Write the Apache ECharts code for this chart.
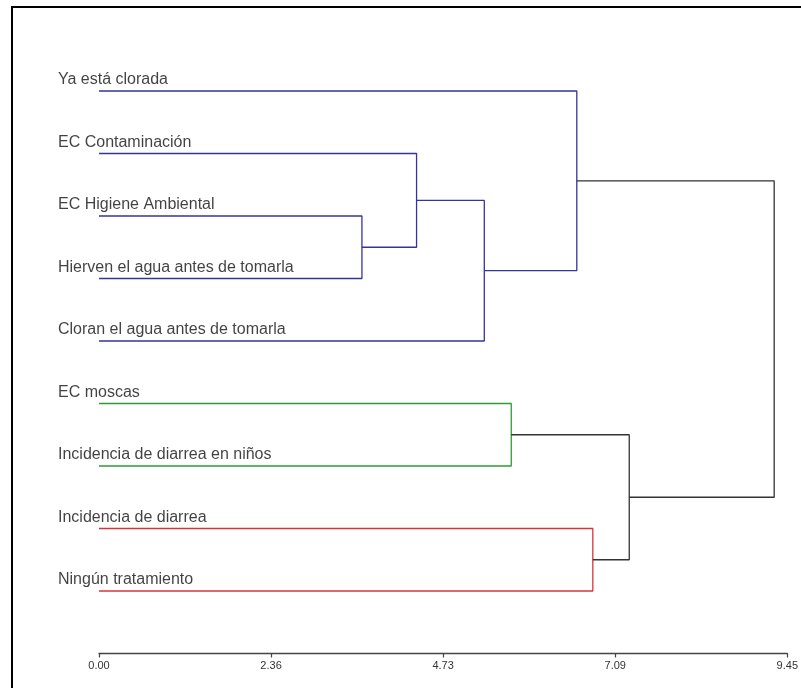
<!DOCTYPE html>
<html>
<head>
<meta charset="utf-8">
<title>Dendrograma</title>
<script src="https://cdn.jsdelivr.net/npm/echarts@6/dist/echarts.min.js"></script>
<style>
  html, body { margin: 0; padding: 0; background: #fff; }
  #chart { width: 801px; height: 688px; }
</style>
</head>
<body>
<div id="chart"></div>
<script>
// Leaves, listed top to bottom in the order they are drawn
const leafLabels = [
  'Ya está clorada',
  'EC Contaminación',
  'EC Higiene Ambiental',
  'Hierven el agua antes de tomarla',
  'Cloran el agua antes de tomarla',
  'EC moscas',
  'Incidencia de diarrea en niños',
  'Incidencia de diarrea',
  'Ningún tratamiento'
];

// Linkage: merge k creates node 9 + k from children mergeA[k] and mergeB[k]
const mergeA = [2, 1, 10, 0, 5, 7, 13, 12];
const mergeB = [3, 9, 4, 11, 6, 8, 14, 15];
const mergeHeight = [3.61, 4.36, 5.29, 6.56, 5.66, 6.78, 7.28, 9.27];

// Distance axis ticks
const tickLabels = ['0.00', '2.36', '4.73', '7.09', '9.45'];
const axisMax = 9.45;

// Coloured clusters (node id -> colour); everything above them is drawn dark
const clusterRoots = [12, 13, 14];
const clusterColors = ['#34349a', '#2f9a36', '#d4353c'];
const baseColor = '#333333';

const nLeaves = leafLabels.length;
const nodeY = [];
const nodeH = [];
for (let i = 0; i < nLeaves; i++) { nodeY[i] = i; nodeH[i] = 0; }
mergeA.forEach((a, k) => {
  const id = nLeaves + k;
  nodeY[id] = (nodeY[a] + nodeY[mergeB[k]]) / 2;
  nodeH[id] = mergeHeight[k];
});

// Colour of each merge: that of the cluster root it belongs to
function descendants(id, out) {
  out.add(id);
  if (id >= nLeaves) {
    descendants(mergeA[id - nLeaves], out);
    descendants(mergeB[id - nLeaves], out);
  }
  return out;
}
const nodeColor = {};
clusterRoots.forEach((r, ci) => {
  descendants(r, new Set()).forEach(id => { nodeColor[id] = clusterColors[ci]; });
});

// One bracket per merge
const linkSeries = mergeA.map((a, k) => {
  const b = mergeB[k];
  const id = nLeaves + k;
  const h = mergeHeight[k];
  return {
    type: 'line',
    silent: true,
    symbol: 'none',
    animation: false,
    lineStyle: { color: nodeColor[id] || baseColor, width: 1.3 },
    data: [
      [nodeH[a], nodeY[a]],
      [h, nodeY[a]],
      [h, nodeY[b]],
      [nodeH[b], nodeY[b]]
    ]
  };
});

// Leaf names, written above each leaf's line
const labelSeries = {
  type: 'scatter',
  silent: true,
  animation: false,
  symbolSize: 0,
  data: leafLabels.map((name, i) => ({ value: [0, i], name: name })),
  label: {
    show: true,
    position: [-41, -11],
    align: 'left',
    verticalAlign: 'middle',
    formatter: p => p.name,
    fontFamily: 'Liberation Sans, Arial, sans-serif',
    fontSize: 16,
    color: '#111'
  }
};

const chart = echarts.init(document.getElementById('chart'), null, { renderer: 'canvas' });
chart.setOption({
  backgroundColor: '#ffffff',
  animation: false,
  grid: { left: 99, top: 28.5, width: 689, height: 625, containLabel: false },
  xAxis: {
    type: 'value',
    min: 0,
    max: axisMax,
    interval: axisMax / (tickLabels.length - 1),
    splitLine: { show: false },
    axisLine: { show: true, onZero: false, lineStyle: { color: '#444', width: 1.3 } },
    axisTick: { show: true, inside: false, length: 4, lineStyle: { color: '#444', width: 1.2 } },
    axisLabel: {
      margin: 7,
      fontFamily: 'Liberation Sans, Arial, sans-serif',
      fontSize: 11,
      color: '#333',
      showMinLabel: true,
      showMaxLabel: true,
      formatter: v => tickLabels[Math.round(v / (axisMax / (tickLabels.length - 1)))]
    }
  },
  yAxis: {
    type: 'value',
    inverse: true,
    min: -1,
    max: nLeaves,
    show: false
  },
  graphic: [
    { type: 'line', shape: { x1: 12, y1: 6, x2: 12, y2: 688 }, style: { stroke: '#000', lineWidth: 2 } },
    { type: 'line', shape: { x1: 11, y1: 7, x2: 801, y2: 7 }, style: { stroke: '#000', lineWidth: 2 } }
  ],
  series: linkSeries.concat([labelSeries])
});
</script>
</body>
</html>
